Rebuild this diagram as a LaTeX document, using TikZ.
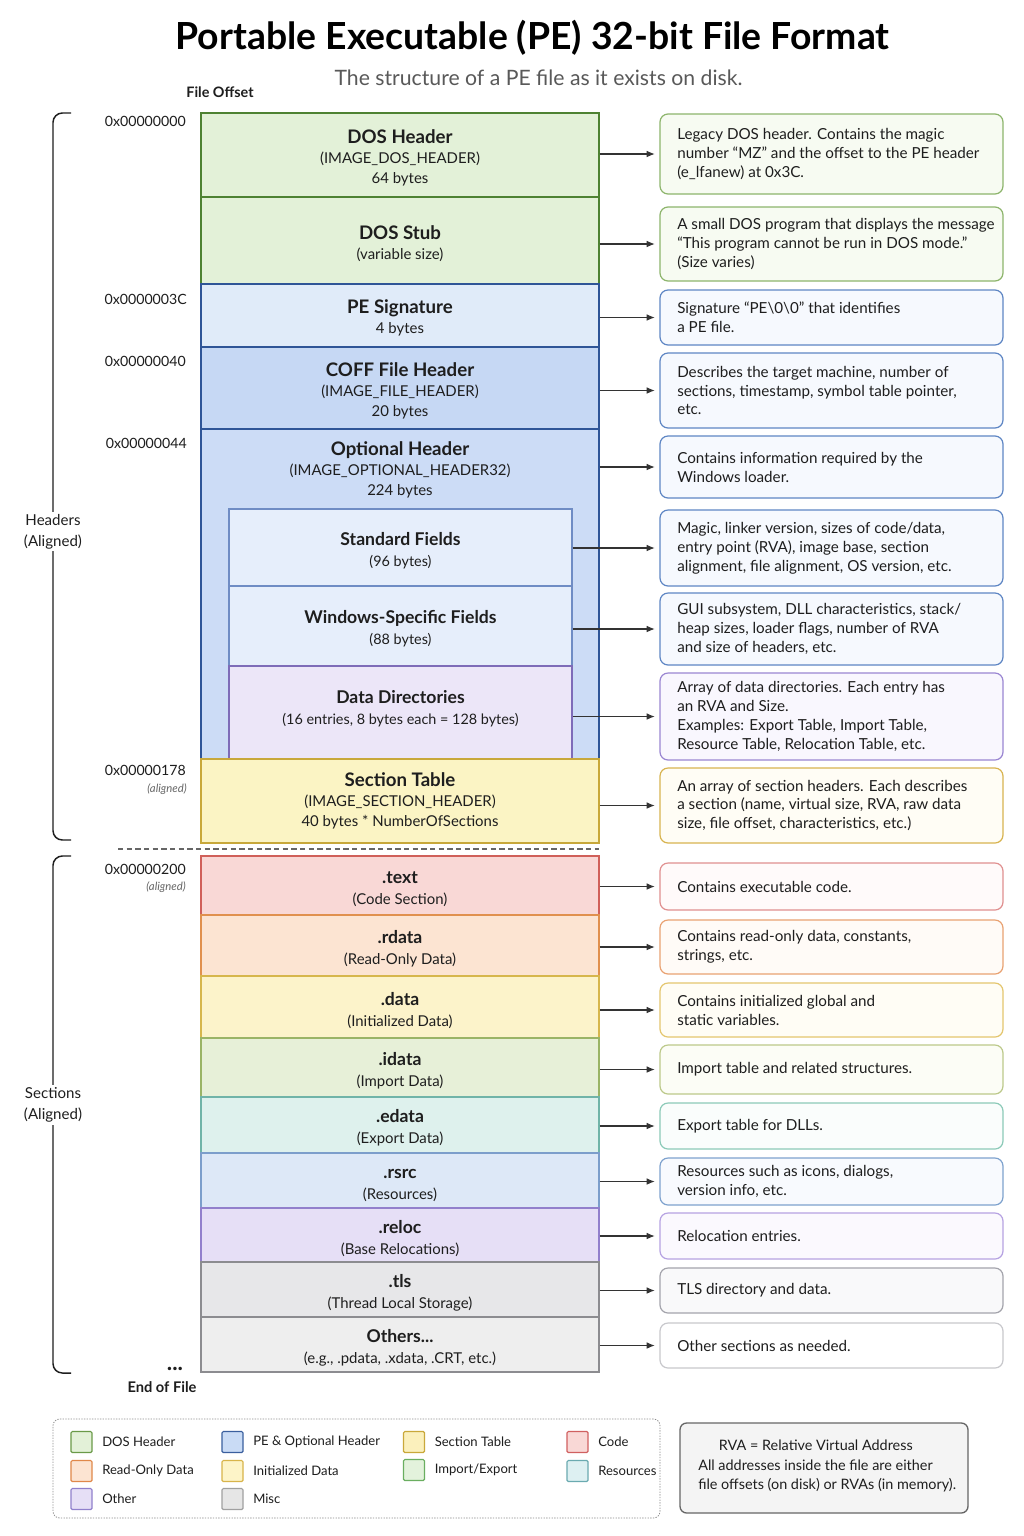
\documentclass[tikz,border=0pt]{standalone}
\usepackage{fontspec}
\setmainfont{Lato}
\newfontfamily\titlefont{Lato}
\usetikzlibrary{arrows.meta}
\newcommand\U{0.75pt}
\definecolor{ink}{HTML}{1E1E1E}
\definecolor{linec}{HTML}{333333}
\definecolor{dosF}{HTML}{E3F1D8}\definecolor{dosD}{HTML}{4E8232}
\definecolor{pesF}{HTML}{E0EBF9}\definecolor{peD}{HTML}{2F5597}
\definecolor{coffF}{HTML}{C6D8F4}\definecolor{optF}{HTML}{CCDCF6}
\definecolor{innF}{HTML}{E6EEFB}\definecolor{innD}{HTML}{6F8CC4}
\definecolor{ddF}{HTML}{ECE6F8}\definecolor{ddD}{HTML}{7E6CB8}
\definecolor{stF}{HTML}{FBF4C4}\definecolor{stD}{HTML}{C8A83A}
\definecolor{textF}{HTML}{F9D8D6}\definecolor{textD}{HTML}{D0605A}
\definecolor{rdF}{HTML}{FCE4D2}\definecolor{rdD}{HTML}{E0904E}
\definecolor{dataF}{HTML}{FCF3CA}\definecolor{dataD}{HTML}{D6B64C}
\definecolor{idF}{HTML}{E7F0D8}\definecolor{idD}{HTML}{9AB466}
\definecolor{edF}{HTML}{DEF1ED}\definecolor{edD}{HTML}{70B4A8}
\definecolor{rsF}{HTML}{DDE8F7}\definecolor{rsD}{HTML}{7C9ECB}
\definecolor{relF}{HTML}{E6DFF6}\definecolor{relD}{HTML}{9280CC}
\definecolor{tlsF}{HTML}{E7E7E9}\definecolor{tlsD}{HTML}{8C8C90}
\definecolor{othF}{HTML}{EEEEEE}
% description colours
\definecolor{gB}{HTML}{8DB56C}\definecolor{gL}{HTML}{F7FBF2}
\definecolor{bB}{HTML}{5E86C4}\definecolor{bL}{HTML}{F6F9FE}
\definecolor{pB}{HTML}{9A86D2}\definecolor{pL}{HTML}{F9F7FE}
\definecolor{yB}{HTML}{D8B450}\definecolor{yL}{HTML}{FFFDF5}
\definecolor{rB}{HTML}{E09090}\definecolor{rL}{HTML}{FFFAFA}
\definecolor{oB}{HTML}{E9A272}\definecolor{oL}{HTML}{FFFBF7}
\definecolor{y2B}{HTML}{E4C66E}\definecolor{y2L}{HTML}{FFFDF5}
\definecolor{olB}{HTML}{BCC98A}\definecolor{olL}{HTML}{FCFDF6}
\definecolor{tB}{HTML}{8CCAB8}\definecolor{tL}{HTML}{FAFDFC}
\definecolor{b2B}{HTML}{7EA2CE}\definecolor{b2L}{HTML}{F8FAFE}
\definecolor{p2B}{HTML}{B6A2E2}\definecolor{p2L}{HTML}{FBF9FE}
\definecolor{grB}{HTML}{A4A4AC}\definecolor{grL}{HTML}{F9F9FA}
\definecolor{gr2B}{HTML}{C8C8CC}
% legend colours
\definecolor{lgDosD}{HTML}{6A9A48}
\definecolor{lgRdD}{HTML}{E0884A}
\definecolor{lgOthD}{HTML}{9080CC}
\definecolor{lgPeF}{HTML}{C9DBF5}\definecolor{lgPeD}{HTML}{3A5F9E}
\definecolor{lgIniF}{HTML}{FDF4C8}\definecolor{lgIniD}{HTML}{D8B44A}
\definecolor{lgMiscF}{HTML}{E6E6E6}\definecolor{lgMiscD}{HTML}{A0A0A0}
\definecolor{lgStF}{HTML}{FBF0BC}\definecolor{lgStD}{HTML}{C9A83A}
\definecolor{lgIeF}{HTML}{E3F2DC}\definecolor{lgIeD}{HTML}{6AAE60}
\definecolor{lgCodeD}{HTML}{D06060}
\definecolor{lgResF}{HTML}{DDF0F2}\definecolor{lgResD}{HTML}{6AAAB0}
\definecolor{rvaF}{HTML}{F4F4F4}
\newcommand\bt{\fontsize{14pt}{15.5pt}\selectfont\bfseries}
\newcommand\bs{\fontsize{11.2pt}{15pt}\selectfont}
\newcommand\st{\fontsize{13.2pt}{15.5pt}\selectfont\bfseries}
\newcommand\ft{\fontsize{13.2pt}{15.5pt}\selectfont\bfseries}
\newcommand\fs{\fontsize{10.8pt}{15.5pt}\selectfont}
\newcommand\desfont{\fontsize{11.4pt}{14.2pt}\selectfont}
\newcommand\lowerstrut{\rule{0pt}{14.5pt}}
\tikzset{
  boxfont/.style={font=\fontsize{11pt}{15pt}\selectfont},
  secfont/.style={font=\fontsize{11pt}{15.7pt}\selectfont},
  mainbox/.style={draw, line width=1.1pt, minimum width=398*\U, inner sep=2pt, align=center, text=ink, boxfont},
  innbox/.style={draw=innD, fill=innF, line width=0.8pt, minimum width=343*\U, inner sep=2pt, align=center, text=ink, secfont},
  descbox/.style={draw, rounded corners=6pt, line width=0.9pt, minimum width=343*\U, inner sep=0pt},
  desctext/.style={anchor=west, align=left, font=\desfont, inner sep=0pt, text=ink},
  conn/.style={draw=linec, line width=0.8pt, -{Latex[length=6pt,width=5pt]}, shorten >=3.5pt},
  offs/.style={anchor=east, font=\fontsize{10.6pt}{13pt}\selectfont, text=ink, inner sep=0pt},
  algn/.style={anchor=east, font=\fontsize{8.5pt}{10pt}\selectfont\itshape, text=black!60, inner sep=0pt},
  brace/.style={draw=ink, line width=1.1pt, rounded corners=7pt},
  bracelab/.style={fill=white, align=center, font=\fontsize{11.3pt}{15.5pt}\selectfont, text=ink, inner sep=2pt},
  swatch/.style={draw, line width=0.9pt, minimum width=21*\U, minimum height=21*\U, inner sep=0pt, rounded corners=1pt},
  legtext/.style={anchor=west, font=\fontsize{9.8pt}{12pt}\selectfont, text=ink, inner sep=0pt}
}
\newcommand\desc[6]{%
  \node[descbox, draw=#4, fill=#5, minimum height={(#3-#2)*\U}] (#1) at (831.5,{(#2+#3)/2}) {};
  \node[desctext] (#1t) at (677,{(#2+#3)/2}) {#6};
}
\newcommand\legitem[6]{%
  \node[swatch, fill=#4, draw=#5] (#1) at (#2,#3) {};
  \node[legtext] (#1t) at ({#2+20.5},#3) {#6};
}
\begin{document}
\begin{tikzpicture}[x=0.75pt,y=-0.75pt]
\useasboundingbox[fill=white] (0,0) rectangle (1024,1536);
% titles
\node[font=\titlefont\fontsize{28pt}{30pt}\selectfont\bfseries, text=black] (title) at (532.5,38) {Portable Executable (PE) 32-bit File Format};
\node[font=\fontsize{15.9pt}{18pt}\selectfont, text=black!65] (subtitle) at (538.5,78) {The structure of a PE file as it exists on disk.};
\node[font=\fontsize{10.8pt}{12pt}\selectfont\bfseries, text=ink] (fileoff) at (220,92) {File Offset};

% header boxes
\node[mainbox, fill=dosF, draw=dosD, minimum height=84*\U] (dosh) at (400,155) {\lowerstrut\bt DOS Header\\ \bs (IMAGE\_DOS\_HEADER)\\ \bs 64 bytes};
\node[mainbox, fill=dosF, draw=dosD, minimum height=87*\U] (stub) at (400,240.5) {\lowerstrut\bt DOS Stub\\ \bs (variable size)};
\node[mainbox, fill=pesF, draw=peD, minimum height=63*\U] (pesig) at (400,315.5) {\lowerstrut\bt PE Signature\\ \bs 4 bytes};
\node[mainbox, fill=coffF, draw=peD, minimum height=82*\U] (coff) at (400,388) {\lowerstrut\bt COFF File Header\\ \bs (IMAGE\_FILE\_HEADER)\\ \bs 20 bytes};
\node[mainbox, fill=optF, draw=peD, minimum height=330*\U] (opt) at (400,594) {};
\node[align=center, text=ink, boxfont] (optt) at (400,470) {\bt Optional Header\\ \bs (IMAGE\_OPTIONAL\_HEADER32)\\ \bs 224 bytes};
\node[innbox, minimum height=77*\U] (stdf) at (400.5,547.5) {\lowerstrut\ft Standard Fields\\ \fs (96 bytes)};
\node[innbox, minimum height=80*\U] (winf) at (400.5,626) {\lowerstrut\ft Windows-Specific Fields\\ \fs (88 bytes)};
\node[innbox, fill=ddF, draw=ddD, minimum height=93*\U] (ddir) at (400.5,712.5) {};
\node[align=center, text=ink, secfont] (ddirt) at (400.5,709) {\ft Data Directories\\ \fs (16 entries, 8 bytes each = 128 bytes)};
\draw[peD, line width=1.1pt] (opt.south west) -- (opt.south east);
\node[mainbox, fill=stF, draw=stD, minimum height=84*\U] (sect) at (400,801) {\bt Section Table\\ \bs (IMAGE\_SECTION\_HEADER)\\ \bs 40 bytes * NumberOfSections};

% separator
\coordinate (sepL) at (118,849);
\coordinate (sepR) at (599,849);
\draw[black!60, line width=0.8pt, dash pattern=on 4pt off 2.5pt] (sepL) -- (sepR);

% sections
\node[mainbox, secfont, fill=textF, draw=textD, minimum height=59*\U] (text) at (400,885.5) {\lowerstrut\st .text\\ \bs (Code Section)};
\node[mainbox, secfont, fill=rdF, draw=rdD, minimum height=61*\U] (rdata) at (400,945.5) {\lowerstrut\st .rdata\\ \bs (Read-Only Data)};
\node[mainbox, secfont, fill=dataF, draw=dataD, minimum height=62*\U] (data) at (400,1007) {\lowerstrut\st .data\\ \bs (Initialized Data)};
\node[mainbox, secfont, fill=idF, draw=idD, minimum height=59*\U] (idata) at (400,1067.5) {\lowerstrut\st .idata\\ \bs (Import Data)};
\node[mainbox, secfont, fill=edF, draw=edD, minimum height=56*\U] (edata) at (400,1125) {\lowerstrut\st .edata\\ \bs (Export Data)};
\node[mainbox, secfont, fill=rsF, draw=rsD, minimum height=55*\U] (rsrc) at (400,1180.5) {\lowerstrut\st .rsrc\\ \bs (Resources)};
\node[mainbox, secfont, fill=relF, draw=relD, minimum height=54*\U] (reloc) at (400,1235) {\lowerstrut\st .reloc\\ \bs (Base Relocations)};
\node[mainbox, secfont, fill=tlsF, draw=tlsD, minimum height=55*\U] (tls) at (400,1289.5) {\lowerstrut\st .tls\\ \bs (Thread Local Storage)};
\node[mainbox, secfont, fill=othF, draw=tlsD, minimum height=55*\U] (others) at (400,1344.5) {\lowerstrut\st Others...\\ \bs (e.g., .pdata, .xdata, .CRT, etc.)};

% offsets
\node[offs] (o0) at (186,121) {0x00000000};
\node[offs] (o3c) at (187,299) {0x0000003C};
\node[offs] (o40) at (186,361) {0x00000040};
\node[offs] (o44) at (187,443) {0x00000044};
\node[offs] (o178) at (186,770) {0x00000178};
\node[algn] (a178) at (187,789) {(aligned)};
\node[offs] (o200) at (186,869) {0x00000200};
\node[algn] (a200) at (186,887) {(aligned)};
\node[font=\fontsize{17pt}{17pt}\selectfont\bfseries, text=ink, inner sep=0pt] (dots) at (175,1369) {...};
\node[font=\fontsize{11pt}{13pt}\selectfont\bfseries, text=ink] (eof) at (162,1387) {End of File};

% braces
\coordinate (h1) at (71,113);
\coordinate (h2) at (53,113);
\coordinate (h3) at (53,840);
\coordinate (h4) at (71,840);
\draw[brace] (h1) -- (h2) -- (h3) -- (h4);
\node[bracelab] (hlab) at (53,531.5) {Headers\\(Aligned)};
\coordinate (s1) at (71,856);
\coordinate (s2) at (53,856);
\coordinate (s3) at (53,1373);
\coordinate (s4) at (71,1373);
\draw[brace] (s1) -- (s2) -- (s3) -- (s4);
\node[bracelab] (slab) at (53,1105) {Sections\\(Aligned)};

% descriptions
\desc{d1}{114}{194}{gB}{gL}{Legacy DOS header. Contains the magic\\number “MZ” and the offset to the PE header\\(e\_lfanew) at 0x3C.}
\desc{d2}{207}{281}{gB}{gL}{A small DOS program that displays the message\\“This program cannot be run in DOS mode.”\\(Size varies)}
\desc{d3}{290}{345}{bB}{bL}{Signature “PE\textbackslash 0\textbackslash 0” that identifies\\a PE file.}
\desc{d4}{353}{428}{bB}{bL}{Describes the target machine, number of\\sections, timestamp, symbol table pointer,\\etc.}
\desc{d5}{436}{498}{bB}{bL}{Contains information required by the\\Windows loader.}
\desc{d6}{510}{586}{bB}{bL}{Magic, linker version, sizes of code/data,\\entry point (RVA), image base, section\\alignment, file alignment, OS version, etc.}
\desc{d7}{593}{665}{bB}{bL}{GUI subsystem, DLL characteristics, stack/\\heap sizes, loader flags, number of RVA\\and size of headers, etc.}
\desc{d8}{673}{760}{pB}{pL}{Array of data directories. Each entry has\\an RVA and Size.\\Examples: Export Table, Import Table,\\Resource Table, Relocation Table, etc.}
\desc{d9}{768}{843}{yB}{yL}{An array of section headers. Each describes\\a section (name, virtual size, RVA, raw data\\size, file offset, characteristics, etc.)}
\desc{d10}{863}{910}{rB}{rL}{Contains executable code.}
\desc{d11}{920}{974}{oB}{oL}{Contains read-only data, constants,\\strings, etc.}
\desc{d12}{983}{1037}{y2B}{y2L}{Contains initialized global and\\static variables.}
\desc{d13}{1045}{1094}{olB}{olL}{Import table and related structures.}
\desc{d14}{1103}{1149}{tB}{tL}{Export table for DLLs.}
\desc{d15}{1158}{1205}{b2B}{b2L}{Resources such as icons, dialogs,\\version info, etc.}
\desc{d16}{1213}{1259}{p2B}{p2L}{Relocation entries.}
\desc{d17}{1268}{1313}{grB}{grL}{TLS directory and data.}
\desc{d18}{1323}{1368}{gr2B}{white}{Other sections as needed.}

% connectors
\draw[conn] (d1.west -| dosh.east) -- (d1.west);
\draw[conn] (d2.west -| stub.east) -- (d2.west);
\draw[conn] (d3.west -| pesig.east) -- (d3.west);
\draw[conn] (d4.west -| coff.east) -- (d4.west);
\draw[conn] (d5.west -| opt.east) -- (d5.west);
\draw[conn] (d6.west -| stdf.east) -- (d6.west);
\draw[conn] (d7.west -| winf.east) -- (d7.west);
\draw[conn] (d8.west -| ddir.east) -- (d8.west);
\draw[conn] (d9.west -| sect.east) -- (d9.west);
\draw[conn] (d10.west -| text.east) -- (d10.west);
\draw[conn] (d11.west -| rdata.east) -- (d11.west);
\draw[conn] (d12.west -| data.east) -- (d12.west);
\draw[conn] (d13.west -| idata.east) -- (d13.west);
\draw[conn] (d14.west -| edata.east) -- (d14.west);
\draw[conn] (d15.west -| rsrc.east) -- (d15.west);
\draw[conn] (d16.west -| reloc.east) -- (d16.west);
\draw[conn] (d17.west -| tls.east) -- (d17.west);
\draw[conn] (d18.west -| others.east) -- (d18.west);

% legend
\node[draw=black!45, dash pattern=on 1pt off 1pt, rounded corners=5pt, line width=0.6pt, minimum width=607*\U, minimum height=99*\U, inner sep=0pt] (legend) at (356.5,1468.5) {};
\legitem{l1}{81.5}{1442}{dosF}{lgDosD}{DOS Header}
\legitem{l2}{81.5}{1471}{rdF}{lgRdD}{Read-Only Data}
\legitem{l3}{81.5}{1499}{relF}{lgOthD}{Other}
\legitem{l4}{232.5}{1442}{lgPeF}{lgPeD}{PE \& Optional Header}
\legitem{l5}{232.5}{1471}{lgIniF}{lgIniD}{Initialized Data}
\legitem{l6}{232.5}{1499}{lgMiscF}{lgMiscD}{Misc}
\legitem{l7}{414}{1442}{lgStF}{lgStD}{Section Table}
\legitem{l8}{414}{1470}{lgIeF}{lgIeD}{Import/Export}
\legitem{l9}{577.5}{1442}{textF}{lgCodeD}{Code}
\legitem{l10}{577.5}{1471}{lgResF}{lgResD}{Resources}

% RVA note
\node[draw=black!60, fill=rvaF, rounded corners=5pt, line width=1pt, minimum width=288*\U, minimum height=90*\U, inner sep=0pt] (rva) at (824,1468) {};
\node[anchor=west, align=left, font=\fontsize{10.8pt}{14.6pt}\selectfont, text=ink, inner sep=0pt] (rvat) at (698,1466) {\hspace*{15.5pt}RVA = Relative Virtual Address\\All addresses inside the file are either\\file offsets (on disk) or RVAs (in memory).};
\end{tikzpicture}
\end{document}
